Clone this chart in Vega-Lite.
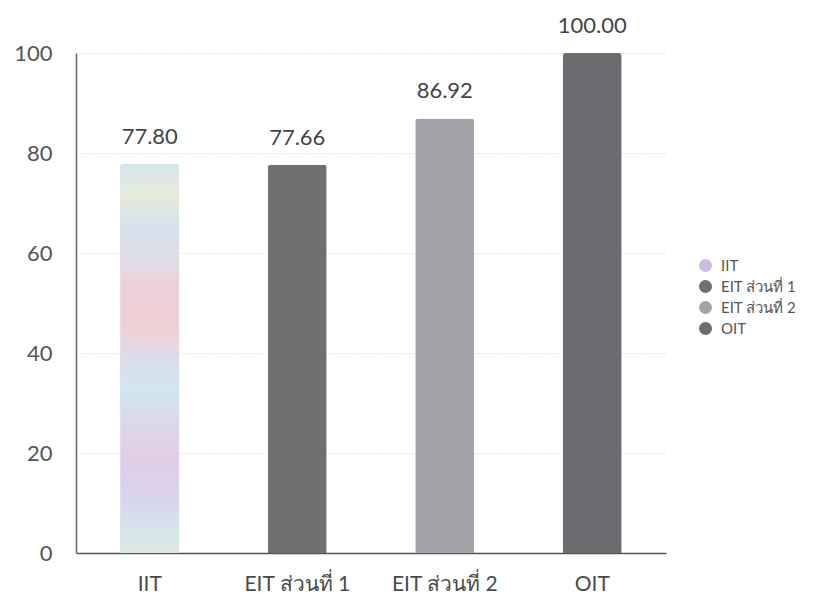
{
  "$schema": "https://vega.github.io/schema/vega-lite/v6.json",
  "width": 590,
  "height": 500,
  "autosize": {"type": "none"},
  "padding": {"left": 76, "top": 53, "right": 152, "bottom": 55},
  "background": "white",
  "config": {"view": {"stroke": null}, "font": "Lato"},
  "data": {"values": [
    {"cat": "IIT", "value": 77.80, "label": "77.80"},
    {"cat": "EIT ส่วนที่ 1", "value": 77.66, "label": "77.66"},
    {"cat": "EIT ส่วนที่ 2", "value": 86.92, "label": "86.92"},
    {"cat": "OIT", "value": 100.00, "label": "100.00"}
  ]},
  "encoding": {
    "x": {"field": "cat", "type": "nominal", "sort": null,
      "scale": {"paddingInner": 0.6, "paddingOuter": 0.3},
      "axis": {"title": null, "labelAngle": 0, "labelFontSize": 21, "labelColor": "#4a4a4a", "labelPadding": 20, "ticks": false, "domainColor": "#555", "domainWidth": 1.5, "grid": false}},
    "y": {"field": "value", "type": "quantitative",
      "scale": {"domain": [0, 100]},
      "axis": {"title": null, "values": [0, 20, 40, 60, 80, 100], "labelFontSize": 22, "labelColor": "#555", "labelPadding": 24, "ticks": false, "domainColor": "#666", "domainWidth": 1.5, "gridColor": "#d0d0d0", "gridDash": [1, 2], "gridWidth": 1}}
  },
  "layer": [
    {
      "mark": {"type": "bar", "cornerRadiusTopLeft": 3, "cornerRadiusTopRight": 3},
      "encoding": {
        "color": {"field": "cat", "type": "nominal", "sort": null,
          "scale": {"range": ["#cbbbe0", "#6f6f72", "#a3a3aa", "#6c6c70"]},
          "legend": {"title": null, "orient": "none", "legendX": 622, "legendY": 205, "symbolType": "circle", "symbolSize": 170, "labelFontSize": 15, "labelColor": "#555", "rowPadding": 5, "labelOffset": 8}}
      }
    },
    {
      "transform": [{"filter": "datum.cat === 'IIT'"}],
      "mark": {"type": "bar", "cornerRadiusTopLeft": 3, "cornerRadiusTopRight": 3,
        "color": {"gradient": "linear", "x1": 0, "y1": 0, "x2": 0, "y2": 1, "stops": [
          {"offset": 0, "color": "#d6e6ee"},
          {"offset": 0.08, "color": "#e6ead8"},
          {"offset": 0.16, "color": "#d4e2ee"},
          {"offset": 0.26, "color": "#e4dce8"},
          {"offset": 0.3, "color": "#ecd0d8"},
          {"offset": 0.42, "color": "#f0d0d6"},
          {"offset": 0.5, "color": "#dcdcec"},
          {"offset": 0.58, "color": "#d0e6f0"},
          {"offset": 0.66, "color": "#dcd8ec"},
          {"offset": 0.76, "color": "#e2cce6"},
          {"offset": 0.86, "color": "#d8d4ee"},
          {"offset": 0.94, "color": "#d4e6ea"},
          {"offset": 1, "color": "#dce8e0"}
        ]}},
      "encoding": {}
    },
    {
      "mark": {"type": "text", "baseline": "bottom", "dy": -15, "fontSize": 22, "color": "#444"},
      "encoding": {"text": {"field": "label"}}
    }
  ]
}
